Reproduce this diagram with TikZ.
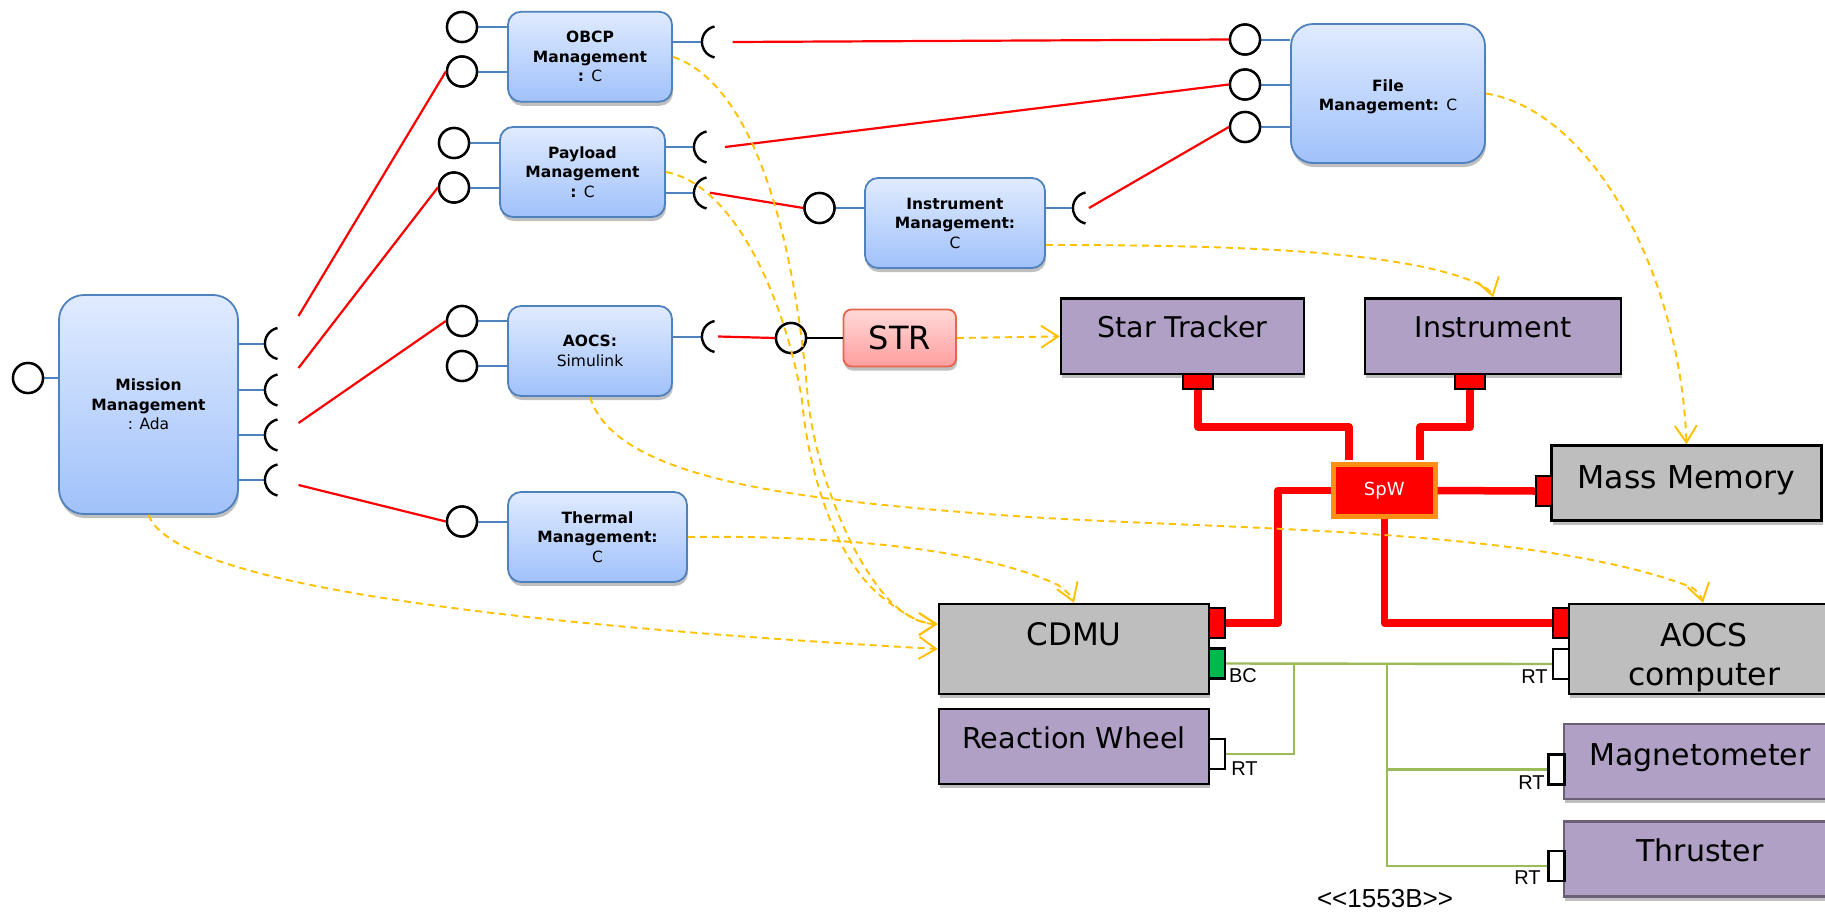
\documentclass[tikz,border=0pt]{standalone}
\usepackage{fontspec}
\setmainfont{DejaVu Sans}
\newfontfamily\arialfont{Liberation Sans}
\usetikzlibrary{arrows.meta,calc,shadows}
\definecolor{swblue}{HTML}{4F81BD}
\definecolor{swtop}{HTML}{E0EBFF}
\definecolor{swbot}{HTML}{A0C1FA}
\definecolor{hwgray}{HTML}{BEBEBE}
\definecolor{hwpurple}{HTML}{B0A0C5}
\definecolor{busgreen}{HTML}{9BBB59}
\definecolor{flowyellow}{HTML}{FFC000}
\definecolor{spworange}{HTML}{FF8F14}
\tikzset{
 softshadow/.style={drop shadow={shadow xshift=1pt,shadow yshift=-4pt,opacity=.25,fill=black}},
 swbox/.style={draw=swblue,line width=1.8pt,top color=swtop,bottom color=swbot,rounded corners=13pt,
  softshadow,inner sep=0pt,align=center,font=\fontsize{15.5}{19.5}\selectfont\bfseries},
 hwbox/.style={draw=black,line width=2.5pt,fill=hwgray,softshadow,inner sep=0pt},
 hwtext/.style={inner sep=0pt,align=center,font=\fontsize{#1}{39}\selectfont},
 iface/.style={circle,draw=black,fill=white,line width=2.4pt,minimum size=30pt,inner sep=0pt},
 sockarc/.style={draw=black,line width=2.4pt},
 link/.style={draw=swblue,line width=2pt},
 call/.style={draw=red,line width=2.2pt},
 spwline/.style={draw=red,line width=7.5pt,line join=round},
 busline/.style={draw=busgreen,line width=2.4pt},
 vport/.style={draw=black,line width=2.2pt,minimum width=16pt,minimum height=30pt,inner sep=0pt},
 flow/.style={draw=flowyellow,line width=1.9pt,dash pattern=on 7pt off 5pt,
  -{Straight Barb[length=17pt,width=22pt,line width=1.9pt]}},
 rtlabel/.style={inner sep=0pt,font=\arialfont\fontsize{20}{24}\selectfont},
}
\begin{document}
\begin{tikzpicture}[x=1pt,y=-1pt,line cap=butt]
 \useasboundingbox (0,0) rectangle (1825,911);
 \clip (0,0) rectangle (1825,911);
 % software blocks
 \node[swbox,rounded corners=25pt,minimum width=179pt,minimum height=219pt] (mission) at (148.5,404.5) {Mission\\Management\\{\mdseries : Ada}};
 \node[swbox,minimum width=164pt,minimum height=90pt] (obcp) at (590,56.75) {OBCP\\Management\\: {\mdseries C}};
 \node[swbox,minimum width=165pt,minimum height=90pt] (payload) at (582.5,172) {Payload\\Management\\: {\mdseries C}};
 \node[swbox,minimum width=164pt,minimum height=90pt] (aocs) at (590,351) {AOCS:\\{\mdseries Simulink}};
 \node[swbox,minimum width=179pt,minimum height=90pt] (thermal) at (597.5,537) {Thermal\\Management:\\{\mdseries C}};
 \node[swbox,minimum width=180pt,minimum height=90pt] (instr) at (955,223) {Instrument\\Management:\\{\mdseries C}};
 \node[swbox,rounded corners=22pt,minimum width=194pt,minimum height=139pt] (file) at (1388,93.5) {\rule{0pt}{18pt}File\\Management: {\mdseries C}};
 \node[swbox,draw=red!50!brown!80,top color=red!15,bottom color=red!38,rounded corners=8pt,minimum width=112.5pt,minimum height=57pt,
  font=\fontsize{32}{36}\selectfont] (str) at (899.75,338) {STR};
 % provided interfaces
 \foreach \n/\x/\y in {missionA/28/378,obcpA/462/27,obcpB/462/71.5,payloadA/454/143,payloadB/454/187.5,
  aocsA/462/321,aocsB/462/366,thermalA/462/521.5,instrA/819.5/208,fileA/1245/39.5,fileB/1245/84.5,fileC/1245/127,strA/791/338}
 \node[iface] (\n) at (\x,\y) {};
 \draw[link] (missionA) -- (mission.west |- missionA);
 \draw[link] (obcpA) -- (obcp.west |- obcpA);
 \draw[link] (obcpB) -- (obcp.west |- obcpB);
 \draw[link] (payloadA) -- (payload.west |- payloadA);
 \draw[link] (payloadB) -- (payload.west |- payloadB);
 \draw[link] (aocsA) -- (aocs.west |- aocsA);
 \draw[link] (aocsB) -- (aocs.west |- aocsB);
 \draw[link] (thermalA) -- (thermal.west |- thermalA);
 \draw[link] (instrA) -- (instr.west |- instrA);
 \draw[link] (fileA) -- (file.west |- fileA);
 \draw[link] (fileB) -- (file.west |- fileB);
 \draw[link] (fileC) -- (file.west |- fileC);
 % required interfaces
 \foreach \n/\b/\x/\y in {missionS/mission/265/343.5,missionT/mission/265/390,missionU/mission/265/435,missionV/mission/265/480,
  obcpS/obcp/702/42,payloadS/payload/694/147,payloadT/payload/694/193,aocsS/aocs/702/336.5,instrS/instr/1073/208}{
 \coordinate (\n) at (\x,\y);
 \draw[link] (\b.east |- \n) -- (\n);
 \draw[sockarc] (\n) ++(12.5,-15.5) arc[start angle=102,end angle=258,radius=15.86pt];
 }
 \foreach \n in {missionA,obcpA,obcpB,payloadA,payloadB,aocsA,aocsB,thermalA,instrA,fileA,fileB,fileC,strA}
 \node[iface] at (\n) {};
 % assembly connectors
 \coordinate (callA) at (298.5,316);
 \coordinate (callB) at (298.5,368);
 \coordinate (callC) at (298.5,423);
 \coordinate (callD) at (298.5,485);
 \coordinate (callE) at (732.7,42);
 \coordinate (callF) at (725,147);
 \coordinate (callG) at (710,192.7);
 \coordinate (callH) at (1089,208);
 \coordinate (callI) at (718,336.5);
 \draw[call] (callA) -- (obcpB.west);
 \draw[call] (callB) -- (payloadB.west);
 \draw[call] (callC) -- (aocsA.west);
 \draw[call] (callD) -- (thermalA.west);
 \draw[call] (callE) -- (fileA.west);
 \draw[call] (callF) -- (fileB.west);
 \draw[call] (callG) -- (instrA.west);
 \draw[call] (callH) -- (fileC.west);
 \draw[call] (callI) -- (strA.west);
 \draw[draw=black,line width=2pt] (strA.east) -- (str.west);
 % hardware
 \node[hwbox,fill=hwpurple,minimum width=243pt,minimum height=75.5pt] (star) at (1182.5,336.4) {};
 \node[hwbox,fill=hwpurple,minimum width=256pt,minimum height=75.5pt] (instrument) at (1493,336.4) {};
 \node[hwbox,minimum width=270pt,minimum height=75pt] (mass) at (1686.5,483) {};
 \node[hwbox,minimum width=270pt,minimum height=90pt] (cdmu) at (1074,649) {};
 \node[hwbox,fill=hwpurple,minimum width=270pt,minimum height=75pt] (wheel) at (1074,746.5) {};
 \node[hwbox,minimum width=268pt,minimum height=90pt] (aocscomp) at (1703,649) {};
 \node[hwbox,fill=hwpurple,draw=hwpurple!60!black,minimum width=272pt,minimum height=75pt] (magneto) at (1700,761.5) {};
 \node[hwbox,fill=hwpurple,draw=hwpurple!60!black,minimum width=272pt,minimum height=75pt] (thruster) at (1700,859) {};
 \node[hwtext=28.5] (starT) at (1182.5,327) {Star Tracker};
 \node[hwtext=28.5] (instrumentT) at (1493,327) {Instrument};
 \node[hwtext=31.5] (massT) at (1686.5,480.5) {Mass Memory};
 \node[hwtext=31] (cdmuT) at (1074,634) {CDMU};
 \node[hwtext=28.7] (wheelT) at (1074,738) {Reaction Wheel};
 \node[hwtext=31.5] (aocscompT) at (1704,657.5) {AOCS\\computer};
 \node[hwtext=30] (magnetoT) at (1700,757.5) {Magnetometer};
 \node[hwtext=30] (thrusterT) at (1700,850) {Thruster};
 % ports
 \node[vport,fill=red,minimum width=30pt,minimum height=15pt] (starP) at (1198,381.5) {};
 \node[vport,fill=red,minimum width=30pt,minimum height=15pt] (instrumentP) at (1470,381.5) {};
 \node[vport,fill=red] (massP) at (1544,491) {};
 \node[vport,fill=red] (cdmuR) at (1217,623) {};
 \node[vport,fill=green!60!black!70!cyan] (cdmuG) at (1217,663.5) {};
 \node[vport,fill=white] (wheelP) at (1217,754) {};
 \node[vport,fill=red] (aocsR) at (1561,623) {};
 \node[vport,fill=white] (aocsW) at (1561,664) {};
 \node[vport,fill=white] (magnetoP) at (1556.5,769.5) {};
 \node[vport,fill=white] (thrusterP) at (1556.5,866) {};
 % spacewire
 \node[draw=spworange,fill=red,line width=5pt,minimum width=101.5pt,minimum height=52pt,inner sep=0pt,text=white,
  font=\fontsize{18}{22}\selectfont] (spw) at (1384.25,490.5) {SpW};
 \coordinate (spwNW) at (1349,427);
 \coordinate (spwNE) at (1420,427);
 \coordinate (spwW) at (1278,560);
 \draw[spwline] (starP.south) |- (spwNW) -- ($(spwNW |- spw.north)+(0,-2.5)$);
 \draw[spwline] (instrumentP.south) |- (spwNE) -- ($(spwNE |- spw.north)+(0,-2.5)$);
 \draw[spwline] (cdmuR.east) -- (spwW |- cdmuR.east) -- (spwW |- spw.west) -- (spw.west);
 \draw[spwline] (spw.south) |- (aocsR.west);
 \draw[spwline] (spw.east) -- (massP.west);
 % 1553B bus
 \coordinate (busA) at (1294,664);
 \coordinate (busB) at (1387,664);
 \draw[busline] (cdmuG.east) -- (aocsW.west);
 \draw[busline] (wheelP.east) -| (busA);
 \draw[busline] (busB) |- (magnetoP.west);
 \draw[busline] (busB) |- (thrusterP.west);
 \node[rtlabel] (bcL) at (1243,676) {BC};
 \node[rtlabel] (rtA) at (1244.5,769) {RT};
 \node[rtlabel] (rtB) at (1534.5,677) {RT};
 \node[rtlabel] (rtC) at (1531.5,783) {RT};
 \node[rtlabel] (rtD) at (1527.5,878) {RT};
 \node[inner sep=0pt,font=\arialfont\fontsize{26}{30}\selectfont] (busL) at (1385,899) {<{}<1553B>{}>};
 % dependencies
 \draw[flow] (obcp.east) .. controls (755,85) and (795,240) .. (808,400) .. controls (816,470) and (850,560) .. (892,603) .. controls (905,615) and (920,624) .. ($(cdmu.west)+(0,-25)$);
 \draw[flow] (payload.east) .. controls (735,185) and (785,300) .. (802,400) .. controls (808,470) and (835,560) .. (882,597) .. controls (900,612) and (920,624) .. ($(cdmu.west)+(0,-25)$);
 \draw[flow] (mission.south) .. controls (170,575) and (420,620) .. (cdmu.west);
 \draw[flow] (thermal.east) .. controls (830,535) and (980,548) .. (1058,585) .. controls (1065,590) and (1071,595) .. (cdmu.north);
 \draw[flow] ($(instr.east)+(0,22)$) .. controls (1230,245) and (1400,250) .. (1477,283) .. controls (1484,287) and (1491,290) .. (instrument.north);
 \draw[flow] (file.east) .. controls (1590,110) and (1680,270) .. (mass.north);
 \draw[flow] (aocs.south) .. controls (615,480) and (800,500) .. (1000,515) .. controls (1200,530) and (1530,525) .. (1691,587) .. controls (1696,590) and (1701,595) .. (aocscomp.north);
 \draw[flow] (str.east) -- (star.west);
\end{tikzpicture}
\end{document}
